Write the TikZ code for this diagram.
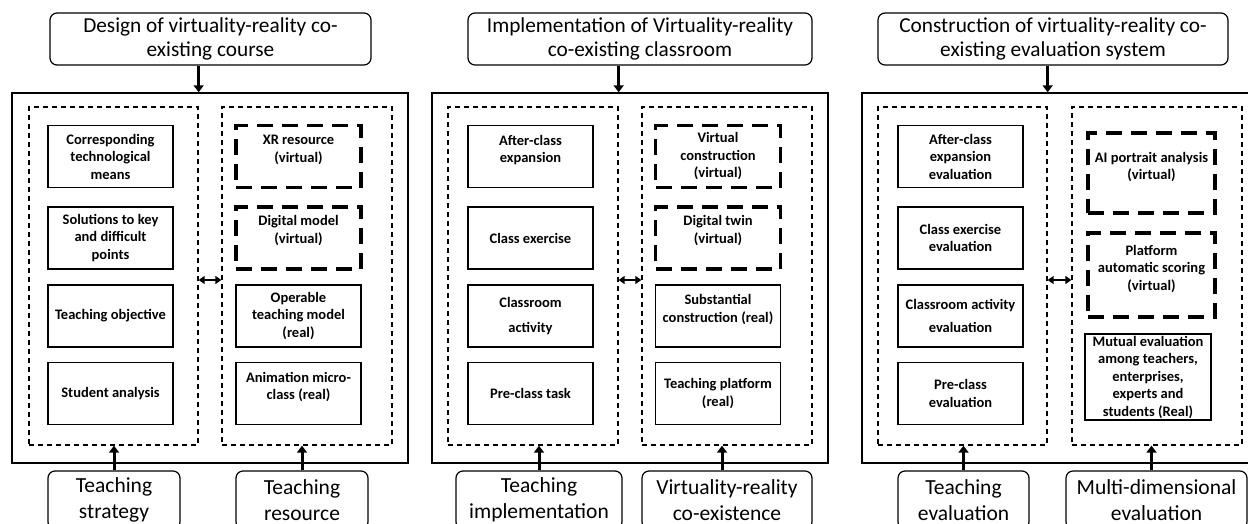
\documentclass[tikz,border=0pt]{standalone}
\usepackage{fontspec}
\setmainfont{Carlito}
\usetikzlibrary{arrows.meta}
\begin{document}
\begin{tikzpicture}[x=1pt,y=-1pt,
 hdr/.style={draw,rounded corners=7pt,line width=1.2pt,align=center,font=\fontsize{21.3}{23.5}\selectfont,inner sep=0pt,minimum height=52pt},
 ftr/.style={draw,rounded corners=7pt,line width=1.2pt,align=center,font=\fontsize{21.5}{26}\selectfont,inner sep=0pt,minimum height=58pt},
 outer/.style={draw,line width=1.4pt,inner sep=0pt,minimum width=396pt,minimum height=370pt},
 dbox/.style={draw,line width=1.3pt,dash pattern=on 5pt off 4pt,inner sep=0pt,minimum width=170pt,minimum height=338pt},
 ibox/.style={draw,line width=1.2pt,align=center,font=\bfseries\fontsize{14.5}{17.5}\selectfont,minimum width=125pt,minimum height=62pt,inner sep=0pt},
 vbox/.style={ibox,line width=3.2pt,dash pattern=on 16pt off 9pt},
 darr/.style={-{Triangle[length=7pt,width=10pt]},line width=3pt},
 dbl/.style={{Triangle[length=6pt,width=8pt]}-{Triangle[length=6pt,width=8pt]},line width=2.5pt}
]
\useasboundingbox (0,0) rectangle (1248,523);
\clip (0,0) rectangle (1248,523);
\fill[white] (0,0) rectangle (1248,523);

% ---------------- Panel 1 ----------------
\node[hdr,minimum width=321pt] (H1) at (210.5,39) {Design of virtuality-reality co-\\existing course};
\node[outer] (O1) at (210,278) {};
\node[dbox,minimum width=169pt] (DL1) at (113.5,276) {};
\node[dbox] (DR1) at (307,276) {};
\node[ibox] (a1) at (110.5,156.5) {Corresponding\\technological\\means};
\node[ibox] (a2) at (110.5,238) {Solutions to key\\and difficult\\points};
\node[ibox] (a3) at (110.5,316) {Teaching objective};
\node[ibox] (a4) at (110.5,393.5) {Student analysis};
\node[vbox] (b1) at (298.5,156.5) {XR resource\\(virtual)\\[-2pt]};
\node[vbox] (b2) at (298.5,238) {Digital model\\(virtual)\\[0pt]};
\node[ibox] (b3) at (298.5,316) {Operable\\teaching model\\(real)};
\node[ibox] (b4) at (298.5,393.5) {Animation micro-\\class (real)\\[-2pt]};
\node[ftr,minimum width=132pt] (F1a) at (114,500) {Teaching\\strategy};
\node[ftr,minimum width=132pt] (F1b) at (302,500) {Teaching\\resource};
\draw[darr] (H1.south -| DL1.east) -- (O1.north -| DL1.east);
\draw[dbl] (DL1.east |- 0,280) -- (DR1.west |- 0,280);
\draw[darr] (F1a.north) -- (F1a.north |- DL1.south);
\draw[darr] (F1b.north) -- (F1b.north |- DR1.south);

% ---------------- Panel 2 ----------------
\node[hdr,minimum width=344pt] (H2) at (640,39) {Implementation of Virtuality-reality\\co-existing classroom};
\node[outer] (O2) at (630,278) {};
\node[dbox] (DL2) at (533,276) {};
\node[dbox] (DR2) at (727,276) {};
\node[ibox] (c1) at (530.5,156.5) {After-class\\expansion\\[-2pt]};
\node[ibox] (c2) at (530.5,238) {Class exercise};
\node[ibox] (c3) at (530.5,316) {Classroom\\[8pt]activity};
\node[ibox] (c4) at (530.5,393.5) {Pre-class task};
\node[vbox] (d1) at (718,156.5) {Virtual\\construction\\(virtual)};
\node[vbox] (d2) at (718,238) {Digital twin\\(virtual)\\[0pt]};
\node[ibox] (d3) at (718,316) {Substantial\\construction (real)\\[-2pt]};
\node[ibox] (d4) at (718,393.5) {Teaching platform\\(real)};
\node[ftr,minimum width=166pt] (F2a) at (539,500) {Teaching\\implementation};
\node[ftr,minimum width=170pt] (F2b) at (727,500) {Virtuality-reality\\co-existence};
\draw[darr] (H2.south -| DL2.east) -- (O2.north -| DL2.east);
\draw[dbl] (DL2.east |- 0,280) -- (DR2.west |- 0,280);
\draw[darr] (F2a.north) -- (F2a.north |- DL2.south);
\draw[darr] ([xshift=-5pt]F2b.north) -- ([xshift=-5pt]F2b.north |- DR2.south);

% ---------------- Panel 3 ----------------
\node[hdr,minimum width=350pt] (H3) at (1053,39) {Construction of virtuality-reality co-\\existing evaluation system};
\node[outer,minimum width=392pt] (O3) at (1058,278) {};
\node[dbox,minimum width=169pt] (DL3) at (962.5,276) {};
\node[dbox] (DR3) at (1157,276) {};
\node[ibox] (e1) at (960.5,156.5) {After-class\\expansion\\evaluation};
\node[ibox] (e2) at (960.5,238) {Class exercise\\evaluation};
\node[ibox] (e3) at (960.5,316) {Classroom activity\\[6pt]evaluation};
\node[ibox] (e4) at (960.5,393.5) {Pre-class\\evaluation};
\node[vbox,minimum width=127pt,minimum height=80pt] (g1) at (1151.5,173) {AI portrait analysis\\(virtual)\\[-3pt]};
\node[vbox,minimum width=127pt,minimum height=84pt] (g2) at (1151.5,275) {Platform\\automatic scoring\\(virtual)\\[-3pt]};
\node[ibox,minimum width=126pt,minimum height=86pt] (g3) at (1148,377) {Mutual evaluation\\among teachers,\\enterprises,\\experts and\\students (Real)};
\node[ftr,minimum width=131pt] (F3a) at (963.5,500) {Teaching\\evaluation};
\node[ftr,minimum width=181pt] (F3b) at (1156.5,500) {Multi-dimensional\\evaluation};
\draw[darr] (H3.south -| DL3.east) -- (O3.north -| DL3.east);
\draw[dbl] (DL3.east |- 0,280) -- (DR3.west |- 0,280);
\draw[darr] (F3a.north) -- (F3a.north |- DL3.south);
\draw[darr] ([xshift=-5pt]F3b.north) -- ([xshift=-5pt]F3b.north |- DR3.south);
\end{tikzpicture}
\end{document}
